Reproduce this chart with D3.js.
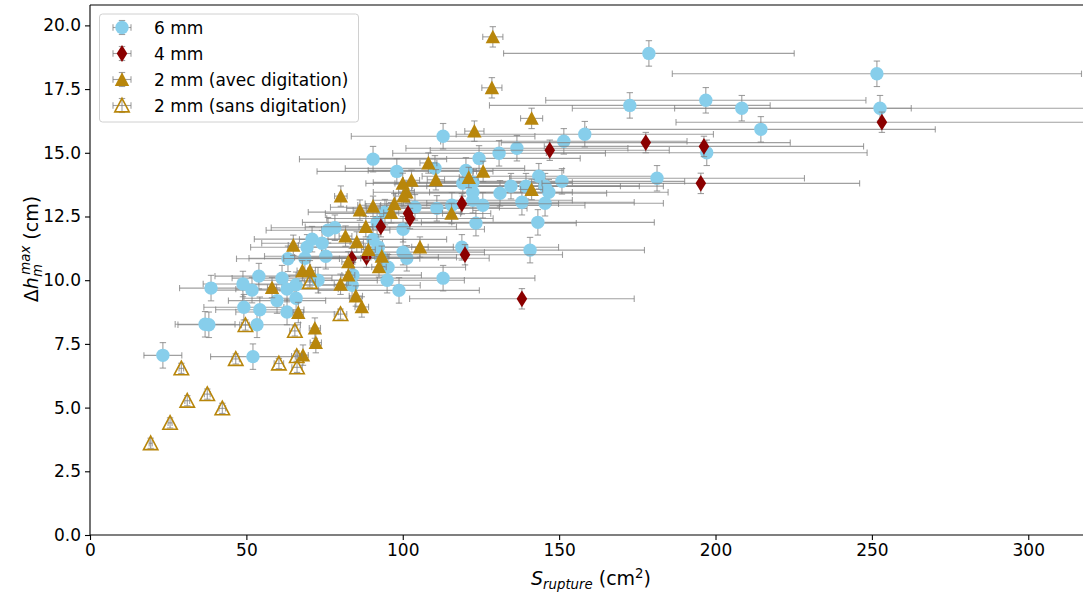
<!DOCTYPE html>
<html><head><meta charset="utf-8">
<script src="https://cdn.jsdelivr.net/npm/d3@7"></script>
<style>body{margin:0;background:#fff;overflow:hidden} text{font-family:"DejaVu Sans",sans-serif;fill:#000}</style>
</head><body><svg id="c" width="1083" height="596"></svg>
<script>
// ---- data (S_rupture in cm², Δh in cm) ----
const s6 = [23.3,36.8,38.0,38.7,48.9,49.2,51.8,52.1,53.4,54.0,54.3,59.8,61.4,63.0,63.0,65.9,65.9,63.3,68.7,69.4,71.0,74.2,75.4,72.9,76.1,78.3,83.8,84.1,90.5,92.2,93.0,90.5,98.1,110.3,112.9,124.4,130.8,136.5,151.5,158.2,172.6,120.2,119.2,122.4,122.4,122.4,125.6,115.7,110.9,103.9,134.6,131.1,138.1,139.4,143.5,145.5,146.7,145.5,150.9,143.2,123.4,100.1,94.3,91.8,100.1,101.3,118.9,140.7,95.3,95.0,98.8,112.9,178.7,251.6,196.9,208.4,252.6,214.5,197.2,181.3];
const h6 = [7.05,8.27,8.25,9.69,9.85,8.94,9.61,7.0,8.25,10.16,8.84,9.2,10.08,9.65,8.75,9.82,9.29,10.84,10.86,11.29,11.61,11.45,10.94,10.0,11.96,12.06,9.8,10.2,11.6,11.3,10.9,14.75,14.27,14.39,15.65,14.78,14.98,15.18,15.45,15.73,16.86,14.31,13.8,13.84,13.45,13.14,12.94,12.94,12.82,12.86,13.69,13.41,13.06,13.69,14.08,13.69,13.45,13.02,13.88,12.27,12.24,12.0,12.67,12.27,11.1,10.86,11.29,11.18,10.51,10.0,9.6,10.08,18.9,18.1,17.06,16.75,16.75,15.92,15.0,14.0];
const s4 = [253.2,177.7,196.3,147.0,195.3,118.9,101.7,102.3,93.0,119.9,138.1,83.7,88.4];
const h4 = [16.2,15.4,15.25,15.1,13.8,13.0,12.62,12.42,12.1,11.0,9.27,10.85,10.9];
const s2a = [128.8,128.5,122.9,141.2,80.2,108.2,102.8,110.6,121.1,125.7,141.2,100.0,101.2,100.2,97.3,96.3,90.5,86.3,115.6,88.2,81.7,85.3,89.0,65.0,105.5,93.3,92.4,67.9,70.3,82.6,82.6,58.2,80.1,85.0,86.9,66.6,71.9,72.2,68.1];
const h2a = [19.55,17.55,15.85,16.35,13.3,14.6,13.92,13.94,14.03,14.27,13.56,13.8,13.46,13.3,13.0,12.65,12.9,12.75,12.62,12.1,11.73,11.5,11.2,11.37,11.3,10.94,10.52,10.37,10.37,10.72,10.2,9.71,9.84,9.38,8.95,8.73,8.12,7.55,7.06];
const s2s = [19.4,25.6,31.1,37.5,42.3,29.2,46.6,49.7,60.4,66.2,66.1,65.5,70.3,80.1];
const h2s = [3.6,4.4,5.27,5.53,4.97,6.54,6.91,8.24,6.73,6.58,7.02,8.01,9.93,8.67];
// uncertainties: relative on S, absolute on Δh
const relErrS = {s6:0.26, s4:0.26, s2a:0.025, s2s:0.025};
const errH = {s6:0.5, s4:0.4, s2a:0.4, s2s:0.2};
const xTicks = [0,50,100,150,200,250,300];
const yTicks = [0,2.5,5,7.5,10,12.5,15,17.5,20];
const legendLabels = ["6 mm","4 mm","2 mm (avec digitation)","2 mm (sans digitation)"];

const svg = d3.select("#c");
const L=90, T=5, R=1083, B=535;
const x = d3.scaleLinear().domain([0,317.5]).range([L,R]);
const y = d3.scaleLinear().domain([0,20.8]).range([B,T]);

svg.append("defs").append("clipPath").attr("id","clip").append("rect")
  .attr("x",L).attr("y",T).attr("width",R-L).attr("height",B-T);

const plot = svg.append("g").attr("clip-path","url(#clip)");

const series = [
  {key:"s6", s:s6, h:h6, shape:"circle", fill:"#87CEEB", stroke:"none"},
  {key:"s4", s:s4, h:h4, shape:"diamond", fill:"#8B0000", stroke:"none"},
  {key:"s2a", s:s2a, h:h2a, shape:"tri", fill:"#B8860B", stroke:"none"},
  {key:"s2s", s:s2s, h:h2s, shape:"tri", fill:"none", stroke:"#B8860B"}
];
const cap = 3.2;
function markerPath(shape){
  if(shape==="circle") return d3.symbol().type(d3.symbolCircle).size(Math.PI*6.7*6.7)();
  if(shape==="diamond") return "M0,-8.4L5.3,0L0,8.4L-5.3,0Z";
  return "M0,-7.2L7.2,6.4L-7.2,6.4Z";
}
function drawErr(g, px, py, ex1, ex2, ey1, ey2){
  const eg = g.append("g").attr("stroke","#808080").attr("stroke-opacity",0.75).attr("stroke-width",1.1).attr("fill","none");
  eg.append("line").attr("x1",ex1).attr("x2",ex2).attr("y1",py).attr("y2",py);
  eg.append("line").attr("x1",px).attr("x2",px).attr("y1",ey1).attr("y2",ey2);
  eg.append("line").attr("x1",ex1).attr("x2",ex1).attr("y1",py-cap).attr("y2",py+cap);
  eg.append("line").attr("x1",ex2).attr("x2",ex2).attr("y1",py-cap).attr("y2",py+cap);
  eg.append("line").attr("x1",px-cap).attr("x2",px+cap).attr("y1",ey1).attr("y2",ey1);
  eg.append("line").attr("x1",px-cap).attr("x2",px+cap).attr("y1",ey2).attr("y2",ey2);
}
series.forEach(se=>{
  const g = plot.append("g");
  const data = se.s.map((v,i)=>({s:v,h:se.h[i]}));
  const rx = relErrS[se.key], ey = errH[se.key];
  data.forEach(d=>{
    drawErr(g, x(d.s), y(d.h), x(d.s*(1-rx)), x(d.s*(1+rx)), y(d.h-ey), y(d.h+ey));
  });
  g.selectAll("path.m").data(data).join("path").attr("class","m")
    .attr("d",markerPath(se.shape))
    .attr("transform",d=>`translate(${x(d.s)},${y(d.h)})`)
    .attr("fill",se.fill).attr("stroke",se.stroke).attr("stroke-width",se.stroke==="none"?0:1.6);
});

// axes
const xa = svg.append("g").attr("transform",`translate(0,${B})`)
  .call(d3.axisBottom(x).tickValues(xTicks).tickFormat(d3.format("d")).tickSize(5).tickPadding(4));
const ya = svg.append("g").attr("transform",`translate(${L},0)`)
  .call(d3.axisLeft(y).tickValues(yTicks).tickFormat(d3.format(".1f")).tickSize(5).tickPadding(4));
[xa,ya].forEach(a=>{
  a.selectAll("text").style("font-size","17px").style("font-family","DejaVu Sans");
  a.selectAll("line").attr("stroke","#000").attr("stroke-width",1.1);
  a.select(".domain").remove();
});
// spines
svg.append("line").attr("x1",L).attr("x2",R).attr("y1",B).attr("y2",B).attr("stroke","#000").attr("stroke-width",1.1);
svg.append("line").attr("x1",L).attr("x2",L).attr("y1",T).attr("y2",B).attr("stroke","#000").attr("stroke-width",1.1);
svg.append("line").attr("x1",L).attr("x2",R).attr("y1",T).attr("y2",T).attr("stroke","#000").attr("stroke-width",1.1);

// x label
const xl = svg.append("text").attr("x",591).attr("y",585).attr("text-anchor","middle").style("font-size","19px");
xl.append("tspan").style("font-style","italic").text("S");
xl.append("tspan").style("font-style","italic").style("font-size","13.3px").attr("dy",4).text("rupture");
xl.append("tspan").attr("dy",-4).text(" (cm");
xl.append("tspan").style("font-size","13.3px").attr("dy",-7).text("2");
xl.append("tspan").attr("dy",7).text(")");

// y label
const yl = svg.append("text").attr("transform","translate(38,249) rotate(-90)").attr("text-anchor","middle").style("font-size","19px");
yl.append("tspan").text("Δ");
yl.append("tspan").style("font-style","italic").text("h");
yl.append("tspan").style("font-style","italic").style("font-size","13.3px").attr("dy",4).text("m");
yl.append("tspan").style("font-style","italic").style("font-size","13.3px").attr("dx",-10.5).attr("dy",-12).text("max");
yl.append("tspan").attr("dy",8).text(" (cm)");

// legend
const lg = svg.append("g");
lg.append("rect").attr("x",99.5).attr("y",14).attr("width",259).attr("height",108).attr("rx",3)
  .attr("fill","#fff").attr("fill-opacity",0.8).attr("stroke","#d0d0d0");
const ly = [27.5,53.5,79.5,105.5];
series.forEach((se,i)=>{
  const cx=122, cy=ly[i];
  drawErr(lg, cx, cy, cx-9, cx+9, cy-7, cy+7);
  lg.append("path").attr("d",markerPath(se.shape)).attr("transform",`translate(${cx},${cy})`)
    .attr("fill",se.fill).attr("stroke",se.stroke).attr("stroke-width",se.stroke==="none"?0:1.6);
  lg.append("text").attr("x",154).attr("y",cy).attr("dy","0.36em").style("font-size","17px").text(legendLabels[i]);
});
</script></body></html>
